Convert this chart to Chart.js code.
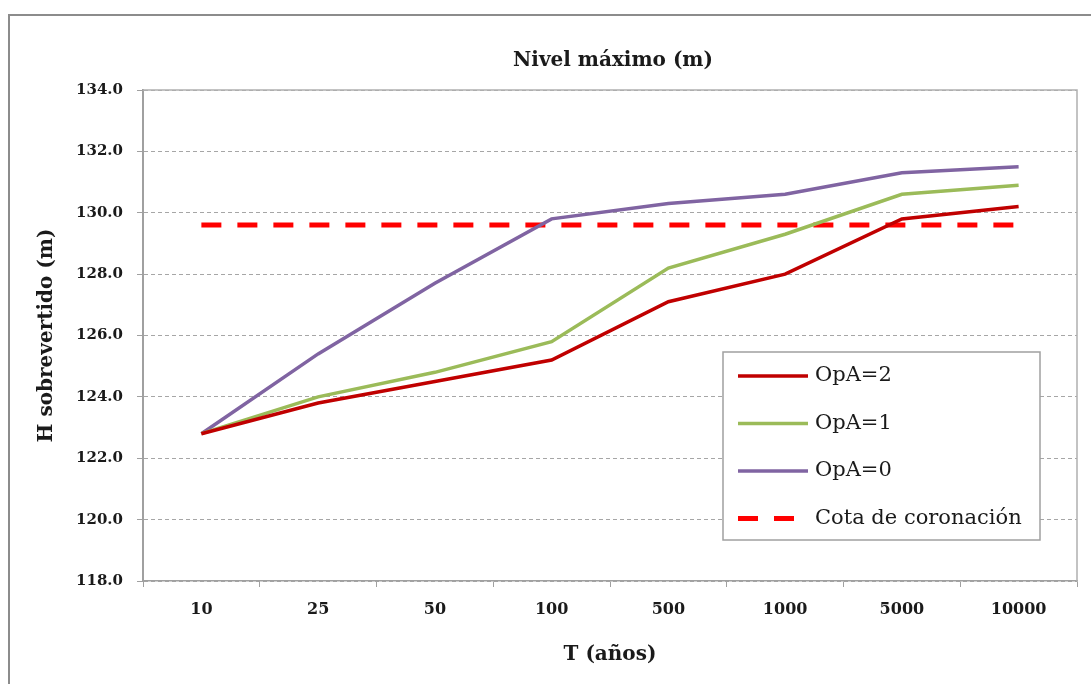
<!DOCTYPE html>
<html>
<head>
<meta charset="utf-8">
<script src="https://cdn.jsdelivr.net/npm/chart.js@4"></script>
<style>
  body { margin: 0; background: #fff; }
  #wrap { width: 1091px; height: 684px; }
</style>
</head>
<body>
<div id="wrap"><canvas id="myChart" width="1091" height="684"></canvas></div>
<script>
// values
var tLabels = ["10", "25", "50", "100", "500", "1000", "5000", "10000"];
var opA2 = [122.8, 123.8, 124.5, 125.2, 127.1, 128.0, 129.8, 130.2];
var opA1 = [122.8, 124.0, 124.8, 125.8, 128.2, 129.3, 130.6, 130.9];
var opA0 = [122.8, 125.4, 127.7, 129.8, 130.3, 130.6, 131.3, 131.5];
var cota = [129.6, 129.6, 129.6, 129.6, 129.6, 129.6, 129.6, 129.6];
var seriesNames = ["OpA=2", "OpA=1", "OpA=0", "Cota de coronación"];

var serif = "'DejaVu Serif', 'Liberation Serif', serif";

// frame, title, plot border and the boxed legend
var decor = {
  id: "decor",
  beforeDraw: function(chart) {
    var ctx = chart.ctx;
    ctx.save();
    ctx.fillStyle = "#fff";
    ctx.fillRect(0, 0, chart.width, chart.height);
    ctx.strokeStyle = "#8c8c8c";
    ctx.lineWidth = 2;
    ctx.strokeRect(9, 15, chart.width + 20, chart.height + 20);
    ctx.restore();
  },
  afterDraw: function(chart) {
    var ctx = chart.ctx, a = chart.chartArea;
    ctx.save();
    // plot border top/right
    ctx.strokeStyle = "#b0b0b0";
    ctx.lineWidth = 1.5;
    ctx.beginPath();
    ctx.moveTo(a.left, a.top);
    ctx.lineTo(a.right, a.top);
    ctx.lineTo(a.right, a.bottom);
    ctx.stroke();

    // title
    ctx.fillStyle = "#1a1a1a";
    ctx.font = "bold 20px " + serif;
    ctx.textAlign = "center";
    ctx.textBaseline = "middle";
    ctx.fillText("Nivel máximo (m)", (a.left + a.right) / 2 + 3, 61);

    // legend
    var lx = 723, ly = 352, lw = 317, lh = 188;
    ctx.fillStyle = "#fff";
    ctx.fillRect(lx, ly, lw, lh);
    ctx.strokeStyle = "#a0a0a0";
    ctx.lineWidth = 1.5;
    ctx.strokeRect(lx, ly, lw, lh);
    ctx.font = "21px " + serif;
    ctx.textAlign = "left";
    chart.data.datasets.forEach(function(ds, i) {
      var y = 376 + i * 47.5;
      ctx.strokeStyle = ds.borderColor;
      ctx.lineWidth = ds.borderWidth;
      ctx.setLineDash(ds.borderDash || []);
      ctx.beginPath();
      ctx.moveTo(738, y);
      ctx.lineTo(808, y);
      ctx.stroke();
      ctx.setLineDash([]);
      ctx.fillStyle = "#1a1a1a";
      ctx.fillText(ds.label, 815, y);
    });
    ctx.restore();
  }
};

new Chart("myChart", {
  type: "line",
  data: {
    labels: tLabels,
    datasets: [
      { label: seriesNames[0], data: opA2, borderColor: "#c00000", borderWidth: 3.5 },
      { label: seriesNames[1], data: opA1, borderColor: "#9bbb59", borderWidth: 3.5 },
      { label: seriesNames[2], data: opA0, borderColor: "#8064a2", borderWidth: 3.5 },
      { label: seriesNames[3], data: cota, borderColor: "#ff0000", borderWidth: 5, borderDash: [20, 16] }
    ]
  },
  options: {
    responsive: false,
    animation: false,
    layout: { padding: { top: 90, right: 14, left: 0, bottom: 0 } },
    elements: {
      point: { radius: 0, hoverRadius: 0 },
      line: { tension: 0, fill: false }
    },
    plugins: {
      legend: { display: false },
      title: { display: false },
      tooltip: { enabled: false }
    },
    scales: {
      x: {
        type: "category",
        offset: true,
        grid: { offset: true, drawOnChartArea: false, drawTicks: true, tickLength: 6, color: "#a0a0a0" },
        border: { color: "#a0a0a0", width: 1.5 },
        ticks: { color: "#1a1a1a", padding: 13, font: { family: serif, size: 16, weight: "bold" } },
        title: {
          display: true, text: "T (años)", color: "#1a1a1a",
          font: { family: serif, size: 20, weight: "bold" },
          padding: { top: 0, bottom: 17 }
        },
        afterFit: function(scale) { scale.height = 103; }
      },
      y: {
        min: 118, max: 134,
        ticks: {
          stepSize: 2, color: "#1a1a1a", padding: 14,
          font: { family: serif, size: 15, weight: "bold" },
          callback: function(v) { return v.toFixed(1); }
        },
        grid: { color: "#a6a6a6", tickLength: 6, tickColor: "#a0a0a0", tickBorderDash: [] },
        border: { color: "#a0a0a0", width: 2, dash: [4, 3] },
        title: {
          display: true, text: "H sobrevertido (m)", color: "#1a1a1a",
          font: { family: serif, size: 20, weight: "bold" },
          padding: { top: 35, bottom: 0 }
        },
        afterFit: function(scale) { scale.width = 143; }
      }
    }
  },
  plugins: [decor]
});
</script>
</body>
</html>
